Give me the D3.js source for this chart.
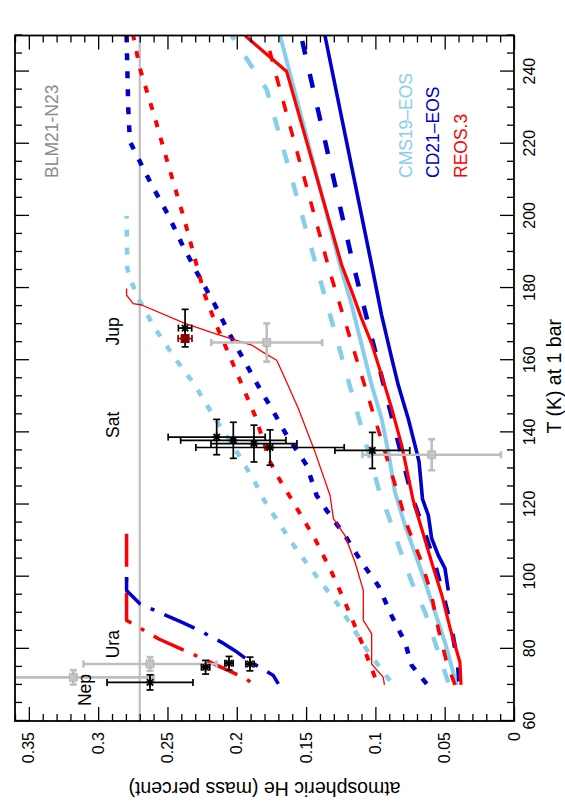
<!DOCTYPE html>
<html>
<head>
<meta charset="utf-8">
<script src="https://cdn.jsdelivr.net/npm/d3@7/dist/d3.min.js"></script>
<style>
  body { margin: 0; background: #fff; }
  svg { display: block; font-family: "Liberation Sans", Arial, Helvetica, sans-serif; }
</style>
</head>
<body>
<svg id="chart" width="565" height="807"></svg>
<script>
// axis ticks
const tTicks = [60, 80, 100, 120, 140, 160, 180, 200, 220, 240];
const heTicks = [0, 0.05, 0.1, 0.15, 0.2, 0.25, 0.3, 0.35];

// model curves, [T (K), He mass fraction]
const cms19Solid = [[70.0,0.0414],[81.8,0.0498],[90.2,0.0570],[101.3,0.0666],[114.2,0.0786],[123.5,0.0859],[134.6,0.0907],[143.8,0.0955],[153.1,0.1027],[164.2,0.1099],[175.3,0.1171],[186.4,0.1255],[250,0.1688]];
const cms19Dashed = [[70.7,0.0474],[81.8,0.0570],[90.2,0.0642],[98.5,0.0738],[108.7,0.0834],[117,0.0907],[123,0.0967],[182.8,0.1402],[235,0.1784],[250,0.2037]];
const cms19Dotted = [[71.2,0.0895],[79.1,0.1051],[92.1,0.1267],[106.8,0.1556],[117.9,0.1748],[121.6,0.1809],[126.2,0.1869],[135.5,0.2013],[143.8,0.2157],[153.1,0.2302],[160.5,0.2446],[168.8,0.2590],[177.1,0.2710],[182.7,0.2771],[185.5,0.2790],[200,0.2795]];

const cd21Solid = [[96.2,0.0474],[102.3,0.0498],[105.9,0.0546],[110.6,0.0594],[117.0,0.0618],[121.5,0.0660],[131.8,0.0685],[134.6,0.0702],[143.8,0.0763],[153.1,0.0835],[160.5,0.0882],[172.5,0.0955],[186.4,0.1027],[250,0.1364]];
const cd21Dashed = [[71,0.0395],[76.3,0.0406],[85.5,0.0450],[94.8,0.0510],[105.0,0.0582],[113.3,0.0654],[122.5,0.0738],[186.4,0.1159],[250,0.1537]];
const cd21Dotted = [[70.3,0.0630],[75.4,0.0738],[81.8,0.0786],[89.2,0.0883],[97.5,0.0979],[104.0,0.1099],[111.4,0.1219],[118.4,0.1352],[122.5,0.1424],[130.9,0.1496],[139.2,0.1640],[146.6,0.1748],[151.2,0.1821],[159.5,0.1941],[167.9,0.2061],[175.3,0.2157],[184.5,0.2290],[192.4,0.2398],[200.2,0.2494],[208.6,0.2614],[216.9,0.2723],[220.6,0.2771],[229.9,0.2783],[250,0.2795]];
const cd21DashDot = [[99.9,0.2795],[96.2,0.2795],[92.5,0.2699],[89.2,0.2506],[87.4,0.2398],[85.5,0.2290],[81.8,0.2109],[79.5,0.2013],[76.8,0.1917],[74.0,0.1797],[72.6,0.1736],[70.3,0.1700]];

const reosSolid = [[70.0,0.0382],[76.3,0.0390],[85.6,0.0460],[94.8,0.0520],[104.0,0.0594],[113.3,0.0666],[121.1,0.0727],[136.4,0.0810],[146.6,0.0882],[155.8,0.0955],[164.6,0.1027],[171.6,0.1100],[179.0,0.1170],[186.4,0.1243],[240.0,0.1640],[250,0.1941]];
const reosDashed = [[70.0,0.0426],[76.3,0.0486],[85.5,0.0546],[94.8,0.0594],[104.0,0.0666],[113.3,0.0762],[122.5,0.0834],[184,0.1325],[241.9,0.1737],[250,0.1790]];
const reosDotted = [[72.1,0.1003],[81.8,0.1099],[92.9,0.1219],[101.3,0.1316],[110.5,0.1436],[121.4,0.1604],[126.7,0.1688],[132.7,0.1772],[136.4,0.1797],[144.7,0.1869],[157.7,0.2013],[170.6,0.2157],[178.0,0.2230],[186.4,0.2290],[198.4,0.2374],[214.1,0.2494],[227.1,0.2590],[240.9,0.2699],[250,0.2747]];
const reosThin = [[70.0,0.0935],[72.1,0.0943],[75.8,0.1027],[84.2,0.1027],[87.9,0.1087],[96.2,0.1087],[104.0,0.1147],[111.4,0.1219],[116.1,0.1303],[122.5,0.1327],[134.6,0.1436],[146.6,0.1556],[154.9,0.1652],[160.0,0.1712],[161.9,0.1797],[164.2,0.1893],[167.4,0.2157],[170.2,0.2374],[175.3,0.2686],[175.7,0.2747],[178.0,0.2795],[179.9,0.2795]];
const reosDashDot = [[111.9,0.2795],[87.9,0.2795],[86.9,0.2747],[82.8,0.2566],[79.1,0.2350],[71.9,0.1941],[69.8,0.1864]];

// observations: [T, dT, He, dHe, kind]
const jupObs = [[164.9,5.3,0.1784,0.040,"gray"],[168.9,5.2,0.2373,0.0048,"black"],[166.0,0,0.2373,0.005,"probe"]];
const satObs = [[133.8,4.3,0.0594,0.050,"gray"],[138.7,4.9,0.2145,0.035,"black"],[137.8,5.0,0.2025,0.038,"black"],[136.9,5.1,0.1876,0.031,"black"],[135.8,4.9,0.1760,0.0535,"black"],[135.0,5.0,0.1022,0.027,"black"]];
const uraObs = [[75.8,1.9,0.2626,0.048,"gray"],[74.9,1.9,0.2225,0.003,"black"],[76.0,1.9,0.2056,0.003,"black"],[75.8,1.9,0.1905,0.003,"black"]];
const nepObs = [[72.1,2.0,0.3179,0.058,"gray"],[70.7,2.1,0.2626,0.031,"black"]];

const protosolarHe = 0.27;

const planetNames = ["Nep", "Ura", "Sat", "Jup"];
const planetLabelT = [68.6, 81.3, 142.1, 168.0];
const planetLabelHe = [0.305, 0.285, 0.285, 0.285];

const eosNames = ["CMS19\u2013EOS", "CD21\u2013EOS", "REOS.3"];

const sky = "#87CEEB", blue = "#0000CD", red = "#FF0000";
const eosColors = [sky, blue, red];

const series = [
  {data: cms19Dotted, color: sky, width: 4.5, dash: "7,11"},
  {data: cms19Dashed, color: sky, width: 4.5, dash: "14,20"},
  {data: cms19Solid, color: sky, width: 4, dash: null},
  {data: cd21Dotted, color: blue, width: 4.5, dash: "7,11"},
  {data: cd21Dashed, color: blue, width: 4.5, dash: "14,20"},
  {data: cd21Solid, color: blue, width: 3.6, dash: null},
  {data: reosDotted, color: red, width: 4, dash: "7,11"},
  {data: reosDashed, color: red, width: 3.6, dash: "11,15"},
  {data: reosSolid, color: red, width: 3.2, dash: null},
  {data: reosThin, color: red, width: 1.3, dash: null},
  {data: reosDashDot, color: red, width: 3.5, dash: "33,11,4,11"},
  {data: cd21DashDot, color: blue, width: 3.5, dash: "33,11,4,11"}
];

// the chart is drawn in landscape and turned a quarter turn
const svg = d3.select("#chart");
const g = svg.append("g").attr("transform", "translate(0,807) rotate(-90)");

const x = d3.scaleLinear().domain([60, 250]).range([86, 771.5]);
const y = d3.scaleLinear().domain([0, 0.36]).range([514, 15]);
const [x0, x1] = x.range(), [y0, y1] = y.range();

g.append("clipPath").attr("id", "clip")
  .append("rect").attr("x", x0).attr("y", y1).attr("width", x1 - x0).attr("height", y0 - y1);
const plot = g.append("g").attr("clip-path", "url(#clip)");

plot.append("line")
  .attr("x1", x0).attr("x2", x1)
  .attr("y1", y(protosolarHe)).attr("y2", y(protosolarHe))
  .attr("stroke", "#BEBEBE").attr("stroke-width", 2.2);

const line = d3.line().x(d => x(d[0])).y(d => y(d[1]));

plot.selectAll("path.model")
  .data(series)
  .join("path")
    .attr("class", "model")
    .attr("d", d => line(d.data))
    .attr("fill", "none")
    .attr("stroke", d => d.color)
    .attr("stroke-width", d => d.width)
    .attr("stroke-dasharray", d => d.dash)
    .attr("stroke-linejoin", "round");

// observations
const obs = [...jupObs, ...satObs, ...uraObs, ...nepObs];
const order = {gray: 0, black: 1, probe: 2};
obs.sort((a, b) => order[a[4]] - order[b[4]]);
const cap = 3.5;

obs.forEach(o => {
  const [t, dt, he, dhe, kind] = o;
  const col = kind === "gray" ? "#BEBEBE" : kind === "probe" ? "#8B0000" : "#000";
  const sw = kind === "gray" ? 2.6 : 1.7;
  const cx = x(t), cy = y(he);
  const eb = plot.append("g").attr("stroke", col).attr("stroke-width", sw).attr("fill", "none");
  if (dt > 0) {
    eb.append("line").attr("x1", x(t - dt)).attr("x2", x(t + dt)).attr("y1", cy).attr("y2", cy);
    eb.append("line").attr("x1", x(t - dt)).attr("x2", x(t - dt)).attr("y1", cy - cap).attr("y2", cy + cap);
    eb.append("line").attr("x1", x(t + dt)).attr("x2", x(t + dt)).attr("y1", cy - cap).attr("y2", cy + cap);
  }
  if (dhe > 0) {
    eb.append("line").attr("x1", cx).attr("x2", cx).attr("y1", y(he - dhe)).attr("y2", y(he + dhe));
    eb.append("line").attr("x1", cx - cap).attr("x2", cx + cap).attr("y1", y(he - dhe)).attr("y2", y(he - dhe));
    eb.append("line").attr("x1", cx - cap).attr("x2", cx + cap).attr("y1", y(he + dhe)).attr("y2", y(he + dhe));
  }
  if (kind === "gray") {
    plot.append("rect").attr("x", cx - 4).attr("y", cy - 4).attr("width", 8).attr("height", 8)
      .attr("fill", "#C4C4C4").attr("stroke", "#9A9A9A").attr("stroke-width", 1).attr("stroke-dasharray", "1,1");
  } else if (kind === "probe") {
    plot.append("rect").attr("x", cx - 4.5).attr("y", cy - 4.5).attr("width", 9).attr("height", 9)
      .attr("fill", "#8B0000");
  } else {
    const r = 4.5, a = 3.2;
    plot.append("path")
      .attr("d", `M${cx - r},${cy}H${cx + r}M${cx},${cy - r}V${cy + r}M${cx - a},${cy - a}L${cx + a},${cy + a}M${cx - a},${cy + a}L${cx + a},${cy - a}`)
      .attr("stroke", "#000").attr("stroke-width", 1.8);
  }
});

// frame and ticks on all four sides, pointing inwards
function styleAxis(sel) {
  sel.select(".domain").remove();
  sel.attr("font-family", null).attr("font-size", null);
  sel.selectAll("line").attr("stroke", "#000").attr("stroke-width", 1.3);
  sel.selectAll("text").attr("fill", "#000").style("font-size", "16px");
}
const minorT = d3.range(60, 251, 5).filter(v => v % 20 !== 0);
const minorHe = d3.range(0, 37).map(i => i / 100).filter(v => Math.round(v * 100) % 5 !== 0);

g.append("g").attr("transform", `translate(0,${y0})`)
  .call(d3.axisBottom(x).tickValues(tTicks).tickSizeInner(-14).tickSizeOuter(0).tickPadding(10).tickFormat(d3.format("d")))
  .call(styleAxis);
g.append("g").attr("transform", `translate(0,${y0})`)
  .call(d3.axisBottom(x).tickValues(minorT).tickSizeInner(-7).tickSizeOuter(0).tickFormat(""))
  .call(styleAxis);
g.append("g").attr("transform", `translate(0,${y1})`)
  .call(d3.axisTop(x).tickValues(tTicks).tickSizeInner(-14).tickSizeOuter(0).tickFormat(""))
  .call(styleAxis);
g.append("g").attr("transform", `translate(0,${y1})`)
  .call(d3.axisTop(x).tickValues(minorT).tickSizeInner(-7).tickSizeOuter(0).tickFormat(""))
  .call(styleAxis);

g.append("g").attr("transform", `translate(${x0},0)`)
  .call(d3.axisLeft(y).tickValues(heTicks).tickSizeInner(-14).tickSizeOuter(0).tickPadding(11).tickFormat(d3.format("~g")))
  .call(styleAxis);
g.append("g").attr("transform", `translate(${x0},0)`)
  .call(d3.axisLeft(y).tickValues(minorHe).tickSizeInner(-7).tickSizeOuter(0).tickFormat(""))
  .call(styleAxis);
g.append("g").attr("transform", `translate(${x1},0)`)
  .call(d3.axisRight(y).tickValues(heTicks).tickSizeInner(-14).tickSizeOuter(0).tickFormat(""))
  .call(styleAxis);
g.append("g").attr("transform", `translate(${x1},0)`)
  .call(d3.axisRight(y).tickValues(minorHe).tickSizeInner(-7).tickSizeOuter(0).tickFormat(""))
  .call(styleAxis);

g.append("rect")
  .attr("x", x0).attr("y", y1).attr("width", x1 - x0).attr("height", y0 - y1)
  .attr("fill", "none").attr("stroke", "#000").attr("stroke-width", 1.8);

// axis titles
g.append("text")
  .attr("x", (x0 + x1) / 2 + 2).attr("y", 561)
  .attr("text-anchor", "middle").style("font-size", "19.5px")
  .text("T (K) at 1 bar");
g.append("text")
  .attr("transform", `translate(25,${(y0 + y1) / 2}) rotate(-90)`)
  .attr("text-anchor", "middle").style("font-size", "19.5px")
  .text("atmospheric He (mass percent)");

// annotations
g.append("text")
  .attr("x", 629).attr("y", 58.3)
  .attr("fill", "#8C8C8C").style("font-size", "17.5px")
  .text("BLM21-N23");

g.selectAll("text.eos")
  .data(eosNames)
  .join("text")
    .attr("class", "eos")
    .attr("x", 629)
    .attr("y", (d, i) => [411.7, 438.5, 466.5][i])
    .attr("fill", (d, i) => eosColors[i])
    .style("font-size", "17.5px")
    .text(d => d);

g.selectAll("text.planet")
  .data(planetNames)
  .join("text")
    .attr("class", "planet")
    .attr("x", (d, i) => x(planetLabelT[i]))
    .attr("y", (d, i) => y(planetLabelHe[i]))
    .attr("text-anchor", "middle")
    .style("font-size", "17.5px")
    .text(d => d);
</script>
</body>
</html>
